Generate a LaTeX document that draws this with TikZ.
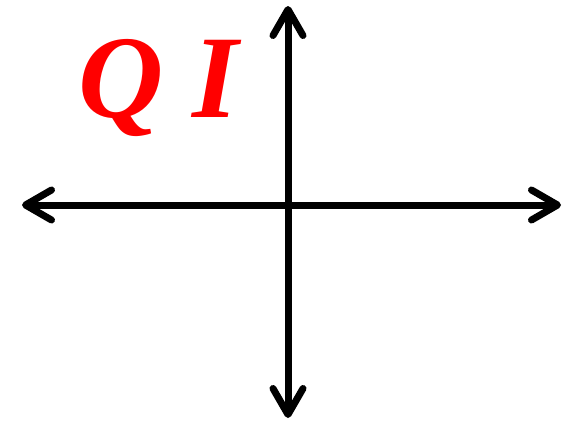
\documentclass[tikz,border=0pt]{standalone}
\usepackage{fontspec}
\setmainfont{Liberation Serif}
\usetikzlibrary{arrows.meta}
\tikzset{
  axis/.style={line width=7pt, draw=black, {Straight Barb[length=26pt,width=30pt,line cap=round,line join=round]}-{Straight Barb[length=26pt,width=30pt,line cap=round,line join=round]}},
  qlabel/.style={text=red, font=\fontsize{118}{118}\selectfont\bfseries\itshape, inner sep=0pt}
}
\begin{document}
\begin{tikzpicture}[x=1pt,y=-1pt]
\useasboundingbox (0,0) rectangle (572,421);
\coordinate (L) at (22,205);
\coordinate (R) at (561,205);
\coordinate (T) at (288,6);
\coordinate (B) at (288,418);
\draw[axis] (L) -- (R);
\draw[axis] (B) -- (T);
\node[qlabel, anchor=base west] (q) at (78,117) {Q I};
\end{tikzpicture}
\end{document}
